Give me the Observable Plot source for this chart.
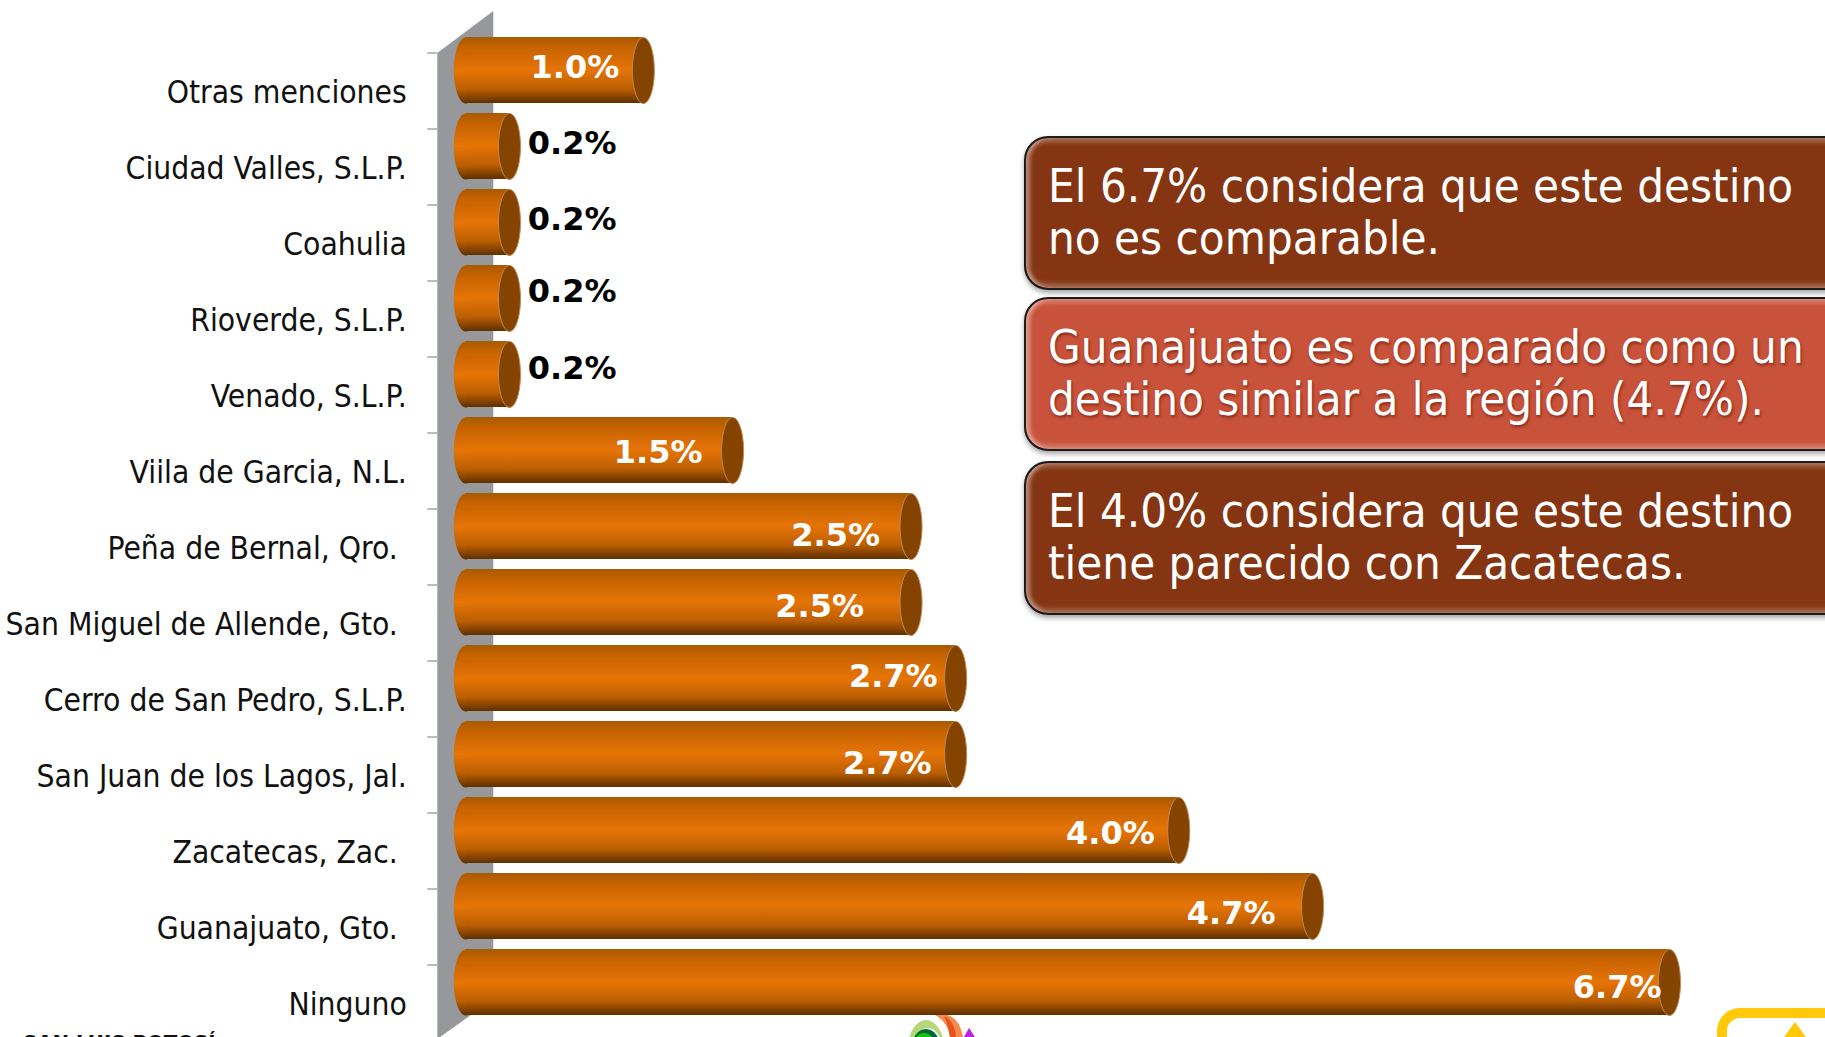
<!DOCTYPE html>
<html lang="es">
<head>
<meta charset="utf-8">
<script src="https://cdn.jsdelivr.net/npm/d3@7"></script>
<script src="https://cdn.jsdelivr.net/npm/@observablehq/plot@0.6"></script>
<style>
html,body{margin:0;padding:0;background:#fff;overflow:hidden}
#stage{position:relative;width:1825px;height:1037px;overflow:hidden}
.note{position:absolute;left:1024px;width:830px;height:154px;box-sizing:border-box;border:2px solid #1c1c1c;border-radius:24px;
 color:#fff;font:47px/52px "DejaVu Sans Condensed","DejaVu Sans",sans-serif;padding:22px 0 0 22px;
 box-shadow:0 3px 5px rgba(0,0,0,.35), inset 6px 0 4px -2px rgba(255,255,255,.4), inset 0 7px 5px -3px rgba(255,255,255,.28), inset 0 -7px 5px -3px rgba(255,255,255,.28);white-space:pre}
.brown{background:#853512}
.red{background:#c9523a;text-shadow:1px 2px 3px rgba(90,20,5,.6)}
.foot{position:absolute;left:23px;top:1031px;font:bold 22px "DejaVu Sans Condensed","DejaVu Sans",sans-serif;color:#111;white-space:pre}
</style>
</head>
<body>
<div id="stage"></div>
<script>
const categories = ["Otras menciones","Ciudad Valles, S.L.P.","Coahulia","Rioverde, S.L.P.","Venado, S.L.P.","Viila de Garcia, N.L.","Peña de Bernal, Qro.\u00a0","San Miguel de Allende, Gto.\u00a0","Cerro de San Pedro, S.L.P.","San Juan de los Lagos, Jal.","Zacatecas, Zac.\u00a0","Guanajuato, Gto.\u00a0","Ninguno"];
const values = [0.95,0.2,0.2,0.2,0.2,1.45,2.45,2.45,2.7,2.7,3.95,4.7,6.7];
const valueLabels = ["1.0%","0.2%","0.2%","0.2%","0.2%","1.5%","2.5%","2.5%","2.7%","2.7%","4.0%","4.7%","6.7%"];
const labelNudgeX = [-24,107,107,107,107,-30,-31,-47,-18,-24,-24,-37,-8];
const labelNudgeY = [-24,-24,-24,-28,-27,-19,-12,-17,-23,-12,-18,-14,-16];
const notes = [
  {cls:"brown",top:136,text:"El 6.7% considera que este destino\nno es comparable."},
  {cls:"red",top:297,text:"Guanajuato es comparado como un\ndestino similar a la región (4.7%)."},
  {cls:"brown",top:461,text:"El 4.0% considera que este destino\ntiene parecido con Zacatecas."}
];
const footerText = "SAN LUIS POTOSÍ";

const rows = categories.map((category,i)=>({category,value:values[i],label:valueLabels[i],nx:labelNudgeX[i],ny:labelNudgeY[i]}));
const capSymbol = rx => ({draw(ctx,size){const ry=Math.sqrt(size/Math.PI);ctx.moveTo(rx,0);
  for(let a=0.1;a<6.3;a+=0.1)ctx.lineTo(rx*Math.cos(a),ry*Math.sin(a));ctx.closePath();}});
const barShift = -21, AXIS_FONT='"DejaVu Sans Condensed","DejaVu Sans",sans-serif';

const defs = () => {
  const d = d3.create("svg:defs");
  const g = d.append("linearGradient").attr("id","cyl").attr("x1",0).attr("x2",0).attr("y1",0).attr("y2",1);
  [[0,"#a85a00"],[.18,"#c96400"],[.5,"#e67407"],[.78,"#bd5f02"],[1,"#5f3000"]].forEach(([o,c])=>g.append("stop").attr("offset",o).attr("stop-color",c));
  return d.node();
};
const wall = (index,{x,y}) => {
  const g = d3.create("svg:g");
  const band = y.bandwidth?y.bandwidth():76, top=y(categories[0]), bot=y(categories[categories.length-1])+band;
  const xl=x(0)-36, xr=x(0)+20;
  g.append("path").attr("fill","#97989c").attr("d",`M${xl},${top}L${xr},${top-42}V${bot-42}L${xl},${bot-2}Z`);
  const tick = g.append("g").attr("stroke","#a6a6a6").attr("stroke-width",1.5);
  d3.range(categories.length).forEach(i=>tick.append("line").attr("x1",xl-10).attr("x2",xl).attr("y1",top+i*band).attr("y2",top+i*band));
  return g.node();
};
// partial logo and yellow frame cut by the bottom of the slide
const footerArt = () => {
  const g = d3.create("svg:g");
  g.append("ellipse").attr("cx",926).attr("cy",1048).attr("rx",18).attr("ry",28).attr("fill","#b5d77a");
  g.append("ellipse").attr("cx",928).attr("cy",1052).attr("rx",15).attr("ry",24).attr("fill","#fff");
  g.append("ellipse").attr("cx",926).attr("cy",1050).attr("rx",15).attr("ry",21).attr("fill","#063");
  g.append("ellipse").attr("cx",924).attr("cy",1052).attr("rx",13).attr("ry",19).attr("fill","#16c60c");
  g.append("path").attr("fill","#f58b4c").attr("d","M935,1015Q958,1010 963,1037H950Q948,1022 935,1015Z");
  g.append("path").attr("fill","#e8531a").attr("d","M944,1016Q954,1020 956,1037H950Q948,1024 944,1016Z");
  g.append("path").attr("fill","#c020e0").attr("d","M969,1028L975,1037H964Z");
  g.append("rect").attr("x",1722).attr("y",1013).attr("width",160).attr("height",80).attr("rx",18).attr("fill","none").attr("stroke","#ffc90a").attr("stroke-width",10);
  g.append("path").attr("fill","#ffc90a").attr("d","M1795,1022L1806,1037H1784Z");
  return g.node();
};

const plot = Plot.plot({
  width:1825,height:1037,margin:0,
  style:{background:"transparent"},
  x:{domain:[0,6.7],range:[473.3,1669],axis:null},
  y:{domain:categories,range:[52,1042],padding:0,axis:null},
  marks:[
    defs,
    wall,
    footerArt,
    Plot.dot(rows,{x:()=>0,y:"category",dy:barShift,dx:-8,symbol:capSymbol(12),r:33,fill:"url(#cyl)"}),
    Plot.barX(rows,{x1:()=>0,x2:"value",y:"category",dy:barShift,insetLeft:-8,insetTop:5,insetBottom:5,fill:"url(#cyl)"}),
    Plot.dot(rows,{x:"value",y:"category",dy:barShift,symbol:capSymbol(11),r:33,fill:"#844400",stroke:"#c08a5a",strokeWidth:1}),
    Plot.text(rows,{x:()=>0,y:"category",text:"category",textAnchor:"end",dx:-67,dy:1,fontSize:31.5,fontFamily:AXIS_FONT,fill:"#111"}),
    ...rows.map(r=>Plot.text([r],{x:"value",y:"category",text:"label",textAnchor:"end",dx:r.nx,dy:r.ny,fontSize:32,fontWeight:700,fontFamily:'"DejaVu Sans",sans-serif',fill:r.value<0.5?"#000":"#fff"}))
  ]
});
const stage=document.getElementById("stage");
plot.style.position="absolute";plot.style.left=0;plot.style.top=0;
stage.appendChild(plot);
notes.forEach(n=>{const d=document.createElement("div");d.className="note "+n.cls;d.style.top=n.top+"px";d.textContent=n.text;stage.appendChild(d);});
const f=document.createElement("div");f.className="foot";f.textContent=footerText;stage.appendChild(f);
</script>
</body>
</html>
